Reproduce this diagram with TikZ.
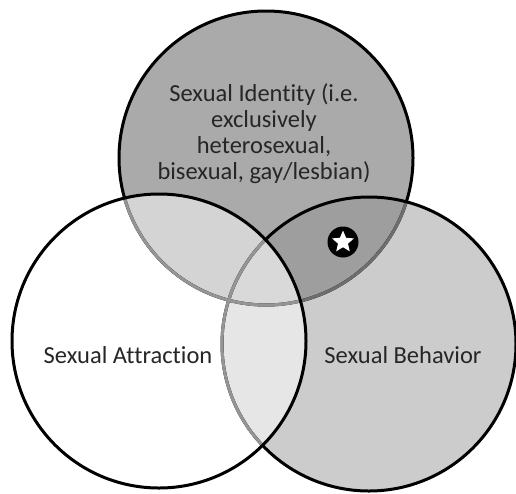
\documentclass[tikz,border=0pt]{standalone}
\usepackage{fontspec}
\setmainfont{Carlito}[Ligatures=NoCommon]
\usetikzlibrary{shapes.geometric}
\definecolor{topc}{HTML}{AAAAAA}
\definecolor{rightc}{HTML}{CCCCCC}
\definecolor{trc}{HTML}{9E9E9E}
\definecolor{ltc}{HTML}{D4D4D4}
\definecolor{lrc}{HTML}{E6E6E6}
\definecolor{triplec}{HTML}{D9D9D9}
\definecolor{midgrey}{HTML}{6E6E6E}
\definecolor{softgrey}{HTML}{959595}
\definecolor{txt}{HTML}{262626}
\begin{document}
\begin{tikzpicture}[x=1pt,y=-1pt,
  ring/.style={line width=3pt,draw=black},
  lbl/.style={text=txt,font=\fontsize{24.5}{26}\selectfont,align=center,inner sep=0pt}]
\useasboundingbox[fill=white] (0,0) rectangle (516,493);
\def\rad{147pt}
\coordinate (T) at (266,158);
\coordinate (L) at (159,341);
\coordinate (R) at (369,344);
% fills
\fill[topc] (T) circle[radius=\rad];
\fill[rightc] (R) circle[radius=\rad];
\begin{scope}
  \clip (T) circle[radius=\rad];
  \fill[trc] (R) circle[radius=\rad];
\end{scope}
\fill[white] (L) circle[radius=\rad];
\begin{scope}
  \clip (L) circle[radius=\rad];
  \fill[ltc] (T) circle[radius=\rad];
  \fill[lrc] (R) circle[radius=\rad];
  \clip (T) circle[radius=\rad];
  \fill[triplec] (R) circle[radius=\rad];
\end{scope}
% outlines
\draw[ring] (T) circle[radius=\rad];
\begin{scope}
  \clip (R) circle[radius=\rad];
  \draw[ring,draw=midgrey] (T) circle[radius=\rad];
\end{scope}
\draw[ring] (R) circle[radius=\rad];
\begin{scope}
  \clip (L) circle[radius=\rad];
  \draw[ring,draw=softgrey] (T) circle[radius=\rad];
  \draw[ring,draw=softgrey] (R) circle[radius=\rad];
\end{scope}
\draw[ring] (L) circle[radius=\rad];
% labels
\node[lbl] (ident) at (264,134) {Sexual Identity (i.e.\\exclusively\\heterosexual,\\bisexual, gay/lesbian)};
\node[lbl] (attr) at (128,355) {Sexual Attraction};
\node[lbl] (behav) at (403,355) {Sexual Behavior};
% star badge
\node[circle,fill=black,minimum size=31pt,inner sep=0pt] (badge) at (343,242) {};
\node[star,star points=5,star point ratio=2.2,fill=white,minimum size=23pt,inner sep=0pt] (starnode) at (badge) {};
\end{tikzpicture}
\end{document}
